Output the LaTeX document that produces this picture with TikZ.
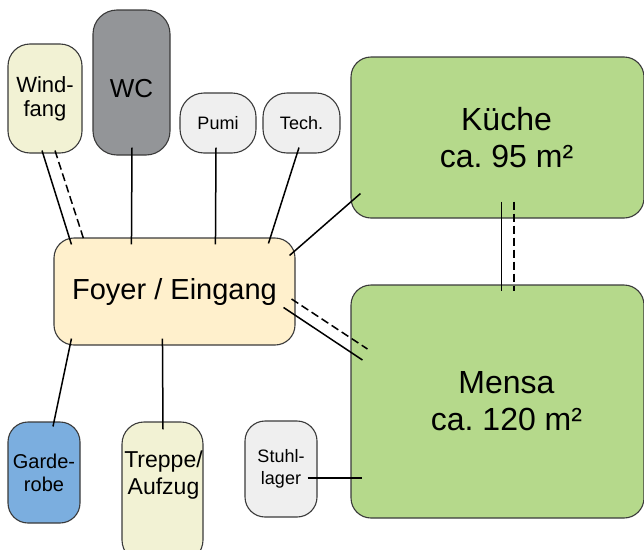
\documentclass[tikz,border=0pt]{standalone}
\usepackage{fontspec}
\setmainfont{Liberation Sans}
\usepackage{tikz}
\usetikzlibrary{calc,positioning}
\frenchspacing

\definecolor{rahmen}{HTML}{3A3A3A}
\definecolor{hellgelb}{HTML}{F2F2D4}
\definecolor{grau}{HTML}{939598}
\definecolor{hellgrau}{HTML}{EFEFEF}
\definecolor{foyergelb}{HTML}{FFF0CC}
\definecolor{gruen}{HTML}{B5D98B}
\definecolor{blau}{HTML}{7BAEDF}

\begin{document}
\begin{tikzpicture}[x=1pt, y=-1pt,
    room/.style={draw=rahmen, line width=1.1pt, rounded corners=20pt, align=center, inner sep=0pt},
    big/.style={font=\fontsize{32}{37}\selectfont, align=center},
    mid/.style={font=\fontsize{22}{24}\selectfont},
    small/.style={font=\fontsize{18}{22}\selectfont},
    link/.style={line width=1.5pt},
    linkdash/.style={line width=1.5pt, dash pattern=on 8pt off 4pt}]
   \useasboundingbox (0,0) rectangle (644,549);

   %obere reihe
   \node[room, fill=hellgelb, mid, minimum width=74pt, minimum height=109pt, rounded corners=22pt] (wind) at (45,98.5) {Wind-\\fang};
   \node[room, fill=grau, minimum width=77pt, minimum height=145pt, rounded corners=24pt,
         label={[font=\fontsize{26}{28}\selectfont, yshift=-6pt]center:WC}] (wc) at (131.5,82.5) {};
   \node[room, fill=hellgrau, small, minimum width=76pt, minimum height=60pt, rounded corners=24pt] (pumi) at (218,123) {Pumi};
   \node[room, fill=hellgrau, small, minimum width=77pt, minimum height=60pt, rounded corners=24pt] (tech) at (301.5,123) {Tech.};

   %foyer
   \node[room, fill=foyergelb, font=\fontsize{29}{34}\selectfont, minimum width=241pt, minimum height=107pt] (foyer) at (174.5,291.5) {Foyer / Eingang};

   %kueche und mensa
   \node[room, fill=gruen, minimum width=293pt, minimum height=161pt,
         label={[big, xshift=9pt]center:Küche\\ca. 95 m²}] (kueche) at (497.5,137.5) {};
   \node[room, fill=gruen, minimum width=293pt, minimum height=233pt,
         label={[big, xshift=9pt]center:Mensa\\ca. 120 m²}] (mensa) at (497.5,401.5) {};

   %untere reihe
   \node[room, fill=blau, font=\fontsize{20}{23}\selectfont, minimum width=72pt, minimum height=101pt] (garde) at (44,472.5) {Garde-\\robe};
   \node[room, fill=hellgelb, minimum width=81pt, minimum height=140pt, rounded corners=22pt,
         label={[font=\fontsize{23}{27}\selectfont, align=center, yshift=17pt, xshift=1pt]center:Treppe/\\Aufzug}] (treppe) at (162.5,492) {};
   \node[room, fill=hellgrau, small, minimum width=72pt, minimum height=96pt] (stuhl) at (281,469) {Stuhl-\\lager};

  \path[link]
    %windfang
    ($(wind.south)+(-3,-3)$) edge ($(foyer.north west)+(18,7)$)
    %wc, pumi, tech
    ($(wc.south)+(0.5,-8)$) edge ($(foyer.north west)+(78,7)$)
    ($(pumi.south)+(-2,-6)$) edge ($(foyer.north west)+(162,7)$)
    ($(tech.south)+(-2.5,-6)$) edge ($(foyer.north west)+(215,6)$)
    %foyer nach kueche / mensa
    ($(foyer.north east)+(-6,18)$) edge ($(kueche.south west)+(10,-25)$)
    ($(foyer.east)+(-12,16)$) edge ($(mensa.west)+(12,-41.5)$)
    ($(kueche.south)+(4,-17)$) edge ($(mensa.north)+(4,7)$)
    %unten
    ($(foyer.south west)+(18,-7)$) edge ($(garde.north)+(9,5)$)
    ($(foyer.south west)+(109,-7)$) edge ($(treppe.north)+(0.5,8)$)
    ($(stuhl.east)+(-10,9)$) edge ($(mensa.west)+(12,76.5)$);

  \path[linkdash]
    ($(wind.south)+(10,-3)$) edge ($(foyer.north west)+(31,4)$)
    ($(foyer.east)+(-4,7.5)$) edge ($(mensa.west)+(17,-52.5)$)
    ($(kueche.south)+(16.5,-17)$) edge ($(mensa.north)+(16.5,7)$);
  \end{tikzpicture}
\end{document}
